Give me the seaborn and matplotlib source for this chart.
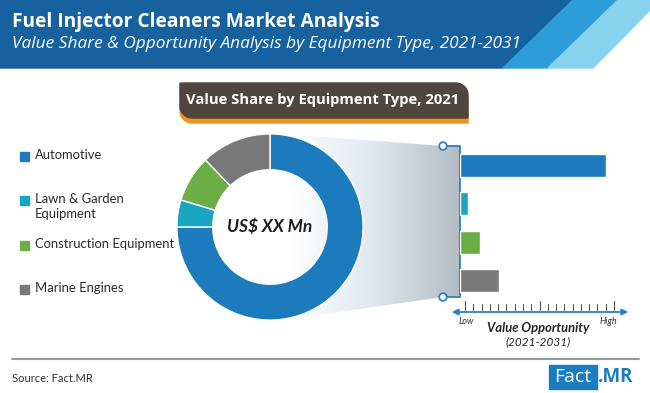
import numpy as np
import pandas as pd
import matplotlib
matplotlib.use("Agg")
import matplotlib.pyplot as plt
import seaborn as sns
from matplotlib.patches import Polygon, Circle, Rectangle
from matplotlib.colors import LinearSegmentedColormap

# data
categories = ["Automotive", "Lawn & Garden Equipment", "Construction Equipment", "Marine Engines"]
legend_labels = ["Automotive", "Lawn & Garden\nEquipment", "Construction Equipment", "Marine Engines"]
share_2021 = [75.0, 4.7, 8.1, 12.2]
opportunity = [0.95, 0.05, 0.13, 0.25]
colors = ["#1b7bbd", "#19a6c1", "#6aae45", "#7a797a"]

sns.set_theme(style="white")
plt.rcParams['font.family'] = ['Lato', 'DejaVu Sans']

W, H = 650, 393
fig = plt.figure(figsize=(6.5, 3.93), dpi=100)
fig.patch.set_facecolor("white")


def fig_rect(x0, y0, x1, y1):
    return [x0 / W, (H - y1) / H, (x1 - x0) / W, (y1 - y0) / H]


def rounded_box(x0, y0, x1, y1, r):
    # square top-left / bottom-right, rounded top-right / bottom-left
    pts = [(x0, y0), (x1 - r, y0)]
    for a in np.linspace(-np.pi / 2, 0, 10):
        pts.append((x1 - r + r * np.cos(a), y0 + r + r * np.sin(a)))
    pts += [(x1, y1), (x0 + r, y1)]
    for a in np.linspace(np.pi / 2, np.pi, 10):
        pts.append((x0 + r + r * np.cos(a), y1 - r + r * np.sin(a)))
    return pts


bg = fig.add_axes([0, 0, 1, 1])
bg.axis('off')

# header band
bg.add_patch(Polygon([(0, 0), (573, 0), (503, 68), (0, 68)], color="#17619f", zorder=1))
bg.add_patch(Polygon([(573, 0), (618, 0), (548, 68), (503, 68)], color="#2c9dd6", zorder=1))
bg.add_patch(Polygon([(618, 0), (660, 0), (650, 10), (593, 68), (548, 68)], color="#87d2ef", zorder=1))
bg.text(12, 22, "Fuel Injector Cleaners Market Analysis", color="white", fontsize=13.8,
        fontweight="bold", va="center", ha="left", family=["Open Sans", "DejaVu Sans"], zorder=3)
bg.text(12, 44, "Value Share & Opportunity Analysis by Equipment Type, 2021-2031", color="white",
        fontsize=12.4, style="italic", va="center", ha="left", family=["Open Sans", "DejaVu Sans"], zorder=3)

# section box
bg.add_patch(Polygon(rounded_box(180, 88, 468, 123, 12), color="#f0921e", zorder=1))
bg.add_patch(Polygon(rounded_box(180, 83, 468, 118, 12), color="#4e463f", zorder=2))
bg.text(323, 100, "Value Share by Equipment Type, 2021", color="white", fontsize=10.6,
        fontweight="bold", ha="center", va="center", family=["Open Sans", "DejaVu Sans"], zorder=3)

# funnel gradient
grad = np.linspace(0, 1, 256).reshape(1, -1)
cmap = LinearSegmentedColormap.from_list("funnel", ["#ffffff", "#dfe7ee", "#b3bbc3"])
im = bg.imshow(grad, cmap=cmap, extent=(290, 460, 322, 133), aspect="auto", zorder=1)
funnel = Polygon([(270, 133), (443, 146), (460, 146), (460, 297), (443, 297), (270, 322)],
                 closed=True, facecolor="none", edgecolor="none", transform=bg.transData)
bg.add_patch(funnel)
im.set_clip_path(funnel)

line_c = "#2f7fc0"
bg.plot([443, 460, 460, 443], [146, 146, 297, 297], color=line_c, lw=1.3, zorder=4)
for yy in (146, 297):
    bg.add_patch(Circle((443, yy), 3.8, facecolor="white", edgecolor=line_c, lw=1.3, zorder=5))

# opportunity scale
bg.annotate("", xy=(631, 312), xytext=(449, 312),
            arrowprops=dict(arrowstyle="<|-|>", color=line_c, lw=1.3, mutation_scale=9), zorder=4)
for i in range(19):
    x = 465 + i * (614 - 465) / 18
    top = 301 if i in (0, 9, 18) else 304
    bg.plot([x, x], [top, 310], color="#555555", lw=0.8, zorder=4)
bg.text(466, 322, "Low", fontsize=6.5, style="italic", ha="center", va="center", color="#333333")
bg.text(608, 322, "High", fontsize=6.5, style="italic", ha="center", va="center", color="#333333")
bg.text(538, 328, "Value Opportunity", fontsize=9.3, style="italic", fontweight="bold",
        ha="center", va="center", color="#222222")
bg.text(538, 342, "(2021-2031)", fontsize=8.5, style="italic", ha="center", va="center", color="#222222")

# legend
leg_y = [156, 200, 245, 289]
for lab, c, yy in zip(legend_labels, colors, leg_y):
    bg.add_patch(Rectangle((20, yy - 4.5), 9, 9, color=c, zorder=3))
    bg.text(35, yy - 7, lab, fontsize=9.4, ha="left", va="top", color="#2a2a2a", linespacing=1.3)

# footer
bg.plot([12, 639], [359, 359], color="#9a9a9a", lw=1.5)
bg.text(12, 379, "Source: Fact.MR", fontsize=8, ha="left", va="center", color="#333333")
bg.add_patch(Rectangle((549, 365), 48, 24, color="#1b7cc0"))
bg.text(573, 377, "Fact", color="white", fontsize=14, ha="center", va="center",
        family=["Open Sans", "DejaVu Sans"])
bg.text(598, 377, ".MR", color="#1b7cc0", fontsize=13.5, fontweight="bold", ha="left", va="center",
        family=["Open Sans", "DejaVu Sans"])

bg.set_xlim(0, W)
bg.set_ylim(H, 0)

# donut
ax_d = fig.add_axes(fig_rect(270 - 94, 227 - 94, 270 + 94, 227 + 94))
ax_d.pie(share_2021, colors=colors, startangle=90, counterclock=False, radius=1,
         wedgeprops=dict(width=0.385, edgecolor="white", linewidth=1))
ax_d.set_xlim(-1.01, 1.01)
ax_d.set_ylim(-1.01, 1.01)
ax_d.set_aspect("equal")
ax_d.text(0, 0, "US$ XX Mn", ha="center", va="center", fontsize=12.5, fontweight="bold",
          style="italic", color="#1e1e1e")

# opportunity bars
ax_b = fig.add_axes(fig_rect(460, 146.5, 614, 299.5))
ax_b.patch.set_alpha(0)
df = pd.DataFrame({"category": categories, "opportunity": opportunity})
sns.barplot(data=df, x="opportunity", y="category", hue="category", palette=colors,
            width=0.6, orient="h", saturation=1, legend=False, ax=ax_b)
ax_b.set_xlim(0, 1)
ax_b.set_ylim(3.5, -0.5)
ax_b.axis("off")

fig.savefig("out.png", dpi=100)
